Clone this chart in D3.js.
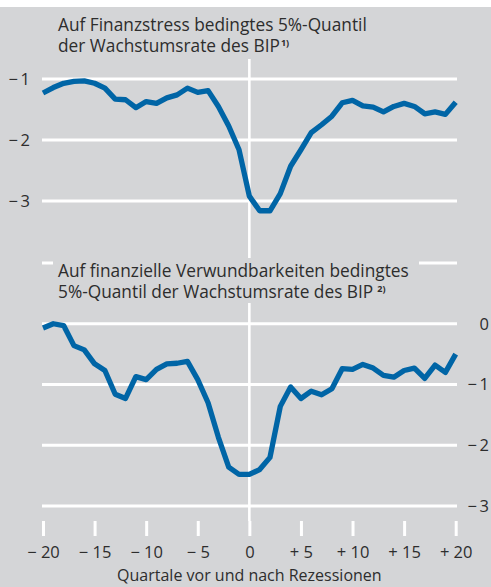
<!DOCTYPE html>
<html><head><meta charset="utf-8">
<script src="https://cdn.jsdelivr.net/npm/d3@7"></script>
<style>
html,body{margin:0;padding:0;background:#fff;}
svg{display:block;}
text{font-family:"Open Sans","Noto Sans",sans-serif;fill:#2d2d2d;}
</style></head><body>
<svg id="c" width="491" height="587"></svg>
<script>
const quarters = d3.range(-20, 21);
const xTicks = [-20,-15,-10,-5,0,5,10,15,20];
const topValues = [-1.23,-1.14,-1.07,-1.04,-1.03,-1.07,-1.15,-1.33,-1.34,-1.47,-1.37,-1.40,-1.31,-1.26,-1.15,-1.22,-1.19,-1.45,-1.77,-2.16,
  -2.92,-3.16,-3.16,-2.88,-2.43,-2.16,-1.88,-1.75,-1.61,-1.39,-1.35,-1.44,-1.46,-1.54,-1.45,-1.40,-1.45,-1.57,-1.54,-1.58,-1.38];
const bottomValues = [-0.07,0.0,-0.03,-0.36,-0.43,-0.66,-0.77,-1.16,-1.23,-0.87,-0.92,-0.75,-0.66,-0.65,-0.62,-0.92,-1.30,-1.87,-2.36,-2.48,
  -2.48,-2.40,-2.20,-1.36,-1.04,-1.23,-1.11,-1.17,-1.07,-0.74,-0.75,-0.67,-0.73,-0.85,-0.88,-0.77,-0.73,-0.90,-0.68,-0.80,-0.50];
const topGrid = [-1,-2,-3];
const topTickLabels = [-1,-2,-3];
const bottomGrid = [1,0,-1,-2,-3];
const bottomTickLabels = [0,-1,-2,-3];
const topTitle = ["Auf Finanzstress bedingtes 5%-Quantil", "der Wachstumsrate des BIP"];
const topNote = "1)";
const bottomTitle = ["Auf finanzielle Verwundbarkeiten bedingtes", "5%-Quantil der Wachstumsrate des BIP"];
const bottomNote = "2)";
const xTitle = "Quartale vor und nach Rezessionen";

const svg = d3.select("#c");
const W = 491, H = 587;
const BG = "#d4d5d7", BLUE = "#0065a6";

svg.append("rect").attr("x",0).attr("y",7).attr("width",W).attr("height",H-7).attr("fill",BG);

const x = d3.scaleLinear().domain([-20,20]).range([43,455.7]);
const yT = d3.scaleLinear().domain([-1,-3]).range([79,201]);
const yB = d3.scaleLinear().domain([1,-3]).range([263,506]);
const gx0 = 42, gx1 = 457;

const fmtY = v => v === 0 ? "0" : (v < 0 ? "\u2212\u2009" + Math.abs(v) : "+\u2009" + v);
const fmtX = v => v === 0 ? "0" : (v < 0 ? "\u2212 " + Math.abs(v) : "+ " + v);

// vertical zero line
svg.append("line").attr("x1",x(0)).attr("x2",x(0)).attr("y1",59).attr("y2",521)
  .attr("stroke","#fff").attr("stroke-width",2.6);

// gridlines
svg.append("g").selectAll("line").data(topGrid).join("line")
  .attr("x1",gx0).attr("x2",gx1).attr("y1",d=>yT(d)).attr("y2",d=>yT(d))
  .attr("stroke","#fff").attr("stroke-width",3);
svg.append("g").selectAll("line").data(bottomGrid).join("line")
  .attr("x1",gx0).attr("x2",gx1).attr("y1",d=>yB(d)).attr("y2",d=>yB(d))
  .attr("stroke","#fff").attr("stroke-width",3);

// title box for bottom panel hides grid/zero line
svg.append("rect").attr("x",53).attr("y",258).attr("width",366).attr("height",45).attr("fill",BG);

// y labels
svg.append("g").selectAll("text").data(topTickLabels).join("text")
  .attr("x",30).attr("y",d=>yT(d)).attr("dy","0.36em").attr("text-anchor","end")
  .attr("font-size",16.5).text(fmtY);
svg.append("g").selectAll("text").data(bottomTickLabels).join("text")
  .attr("x",489).attr("y",d=>yB(d)).attr("dy","0.36em").attr("text-anchor","end")
  .attr("font-size",16.5).text(fmtY);

// x axis
const xAxis = d3.axisBottom(x).tickValues(xTicks).tickSize(15).tickPadding(8).tickFormat(fmtX);
const gX = svg.append("g").attr("transform","translate(0,521)").call(xAxis);
gX.select(".domain").remove();
gX.selectAll(".tick line").attr("stroke","#fff").attr("stroke-width",3);
gX.selectAll(".tick text").attr("fill","#2d2d2d").attr("font-size",16.5)
  .attr("font-family","'Open Sans','Noto Sans',sans-serif").attr("y",37).attr("dy",0);

svg.append("text").attr("x",x(0)).attr("y",581).attr("text-anchor","middle")
  .attr("font-size",16).text(xTitle);

// titles
function title(lines, note, y0, gap) {
  const t = svg.append("g");
  lines.forEach((l,i)=>{
    const tx = t.append("text").attr("x",58).attr("y",y0 + i*21).attr("font-size",17.3).text(l);
    if (i === lines.length-1) {
      const w = tx.node().getComputedTextLength();
      t.append("text").attr("x",58 + w + gap).attr("y",y0 + i*21 - 6.5)
        .attr("font-size",9).attr("font-weight","bold").text(note);
    }
  });
}
title(topTitle, topNote, 31, 1);
title(bottomTitle, bottomNote, 277, 4);

// lines
const lineT = d3.line().x((d,i)=>x(quarters[i])).y(d=>yT(d)).curve(d3.curveLinear);
const lineB = d3.line().x((d,i)=>x(quarters[i])).y(d=>yB(d)).curve(d3.curveLinear);
svg.append("path").attr("d",lineT(topValues)).attr("fill","none").attr("stroke",BLUE)
  .attr("stroke-width",5.3).attr("stroke-linejoin","round");
svg.append("path").attr("d",lineB(bottomValues)).attr("fill","none").attr("stroke",BLUE)
  .attr("stroke-width",5.3).attr("stroke-linejoin","round");
</script></body></html>
